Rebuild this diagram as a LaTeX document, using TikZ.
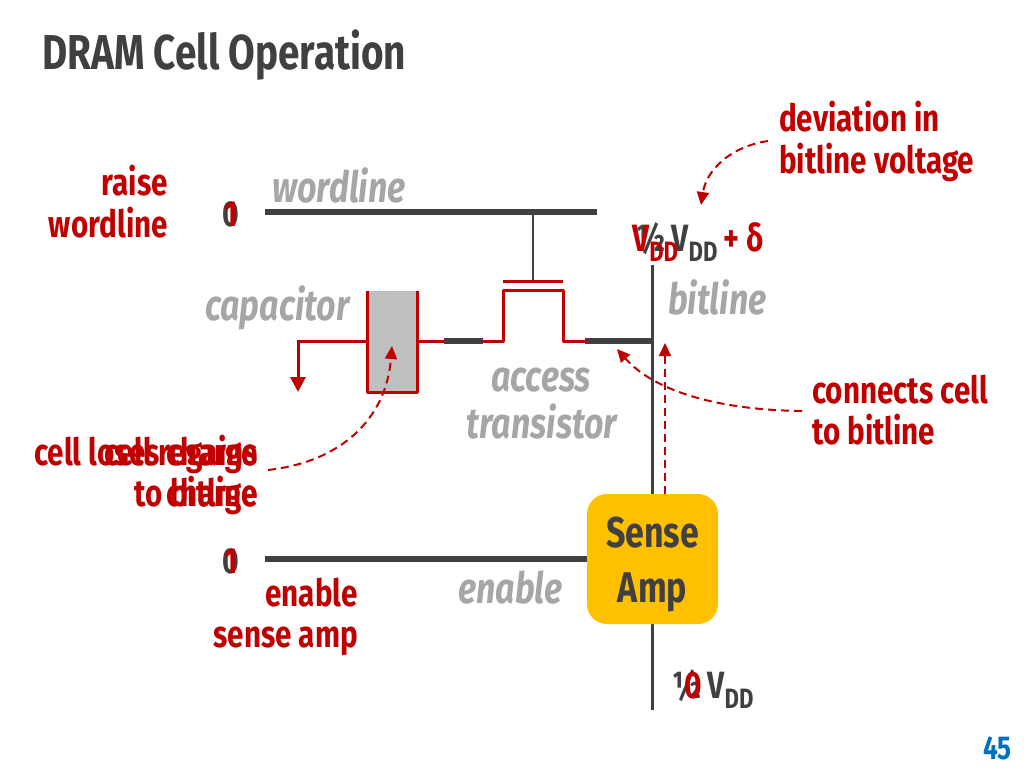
\documentclass[tikz,border=0pt]{standalone}
\usepackage{fontspec}
\setmainfont[FakeStretch=0.79]{Fira Sans}
\usetikzlibrary{arrows.meta}
\definecolor{dred}{HTML}{C00000}
\definecolor{dgray}{HTML}{404040}
\definecolor{lgray}{HTML}{A6A6A6}
\definecolor{capfill}{HTML}{BFBFBF}
\definecolor{ampfill}{HTML}{FFC000}
\definecolor{pblue}{HTML}{0070C0}
\newcommand{\fsz}[1]{\fontsize{#1}{#1}\selectfont}
\newcommand{\subDD}{\raisebox{-0.28em}{\fsz{28}DD}}
\tikzset{
  redtxt/.style={text=dred, inner sep=0, font=\fsz{37.5}\bfseries},
  graylbl/.style={text=lgray, inner sep=0, font=\fsz{43}\bfseries\itshape},
  digit/.style={inner sep=0, font=\fsz{36}\bfseries},
  thickwire/.style={dgray, line width=6},
  thinwire/.style={dgray, line width=3},
  redwire/.style={dred, line width=3},
  dasharrow/.style={dred, line width=2, dash pattern=on 8pt off 5pt, -{Triangle[length=13pt,width=12pt]}},
}
\begin{document}
\begin{tikzpicture}[x=1pt,y=-1pt]
\useasboundingbox[fill=white] (0,0) rectangle (1024,768);
% title
\node[anchor=base west, inner sep=0, text=dgray, font=\fsz{49}\bfseries] (title) at (42,69) {DRAM Cell Operation};
% wordline
\coordinate (wlL) at (265,212);
\coordinate (wlR) at (597,212);
\draw[thickwire] (wlL) -- (wlR);
\node[graylbl, anchor=base west] (wllbl) at (272,202) {wordline};
\node[digit, text=dgray, anchor=base] (wl0) at (231,226) {0};
\node[digit, text=dred, anchor=base] (wl1) at (231,226) {1};
\node[redtxt, anchor=base east] (raise1) at (168,195) {raise};
\node[redtxt, anchor=base east] (raise2) at (168,237) {wordline};
% gate
\coordinate (gtop) at (533,212);
\coordinate (gbot) at (533,281);
\draw[dgray, line width=2.5] (gtop) -- (gbot);
\coordinate (gpl) at (503,281);
\coordinate (gpr) at (563,281);
\draw[redwire] (gpl) -- (gpr);
% channel
\coordinate (c1) at (483,341);
\coordinate (c2) at (503,341);
\coordinate (c3) at (503,290);
\coordinate (c4) at (563,290);
\coordinate (c5) at (563,341);
\coordinate (c6) at (585,341);
\draw[redwire, line join=round] (c1) -- (c2) -- (c3) -- (c4) -- (c5) -- (c6);
% dark segments
\coordinate (s1a) at (444,341);
\coordinate (s1b) at (483,341);
\coordinate (s2a) at (585,341);
\coordinate (s2b) at (652,341);
\draw[thickwire] (s1a) -- (s1b);
\draw[thickwire] (s2a) -- (s2b);
% capacitor
\coordinate (capTL) at (367,291);
\coordinate (capBR) at (417,392);
\fill[capfill] (capTL) rectangle (capBR);
\draw[redwire, line join=round] (367,291) -- (367,392) -- (417,392) -- (417,291);
\draw[redwire] (417,341) -- (s1a);
\coordinate (gndtip) at (298,392);
\draw[redwire, -{Triangle[length=15pt,width=15pt]}] (367,341) -- (298,341) -- (gndtip);
\node[graylbl, anchor=base west] (caplbl) at (205,320) {capacitor};
% bitline
\coordinate (blT) at (652,265);
\coordinate (blB) at (652,710);
\draw[thinwire] (blT) -- (blB);
\node[graylbl, anchor=base west] (bllbl) at (668,314) {bitline};
% access transistor label
\node[graylbl, anchor=base] (acc1) at (541,391) {access};
\node[graylbl, anchor=base] (acc2) at (542,438) {transistor};
% enable line
\coordinate (enL) at (265,559);
\coordinate (enR) at (590,559);
\draw[thickwire] (enL) -- (enR);
\node[graylbl, anchor=base west] (enlbl) at (458,603) {enable};
\node[digit, text=dgray, anchor=base] (en0) at (231,573) {0};
\node[digit, text=dred, anchor=base] (en1) at (231,573) {1};
\node[redtxt, anchor=base east] (ena1) at (358,606) {enable};
\node[redtxt, anchor=base east] (ena2) at (358,647) {sense amp};
% sense amp
\node[draw=none, fill=ampfill, rounded corners=20pt, minimum width=131pt, minimum height=130pt, inner sep=0] (amp) at (652.5,559) {};
\node[inner sep=0, align=center, text=dgray, font=\fsz{43}\bfseries] (amptxt) at (652.5,564) {Sense\\[12pt]Amp};
% voltages
\node[anchor=base west, inner sep=0, font=\fsz{38}\bfseries] (vtop) at (636,251) {\textcolor{dgray}{½\,V\subDD}\,\textcolor{dred}{+\,δ}};
\node[anchor=base west, inner sep=0, font=\fsz{38}\bfseries, text=dred] (vtopr) at (632,251) {V\subDD};
\node[anchor=base west, inner sep=0, font=\fsz{38}\bfseries, text=dgray] (vbot) at (672,698) {½\,V\subDD};
\node[anchor=base west, inner sep=0, font=\fsz{38}\bfseries, text=dred] (vbot0) at (684,698) {0};
% annotations
\node[redtxt, anchor=base west] (dev1) at (779,131) {deviation in};
\node[redtxt, anchor=base west] (dev2) at (779,173) {bitline voltage};
\coordinate (devS) at (768,141);
\coordinate (devE) at (701,205);
\draw[dasharrow] (devS) .. controls (728,147) and (706,172) .. (devE);
\node[redtxt, anchor=base west] (con1) at (812,403) {connects cell};
\node[redtxt, anchor=base west] (con2) at (812,444) {to bitline};
\coordinate (conS) at (802,411);
\coordinate (conE) at (617,349);
\draw[dasharrow] (conS) .. controls (720,410) and (655,392) .. (conE);
\node[redtxt, anchor=base east] (los1) at (258,465) {cell loses charge};
\node[redtxt, anchor=base east] (los2) at (258,506) {to bitline};
\node[redtxt, anchor=base east] (reg1) at (258,465) {cell regains};
\node[redtxt, anchor=base east] (reg2) at (258,506) {charge};
\coordinate (losS) at (268,470);
\coordinate (losE) at (392,346);
\draw[dasharrow] (losS) .. controls (340,462) and (386,420) .. (losE);
\coordinate (ampS) at (665,494);
\coordinate (ampE) at (665,343);
\draw[dasharrow] (ampS) -- (ampE);
% page number
\node[anchor=base east, inner sep=0, text=pblue, font=\fsz{33}\bfseries] (pg) at (1012,759) {45};
\end{tikzpicture}
\end{document}
